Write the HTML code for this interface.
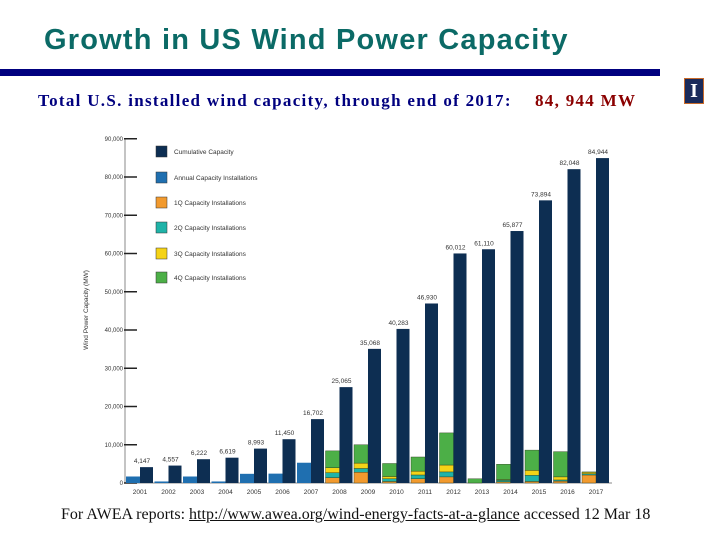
<!DOCTYPE html>
<html><head><meta charset="utf-8"><style>
body{margin:0;width:720px;height:540px;background:#fff;position:relative;overflow:hidden;font-family:"Liberation Sans",sans-serif}
.abs{position:absolute}
</style></head><body>
<div class="abs" style="left:44px;top:24px;font-size:29px;font-weight:bold;letter-spacing:1.2px;color:#0b6a66;white-space:nowrap">Growth in US Wind Power Capacity</div>
<div class="abs" style="left:0;top:69px;width:660px;height:7px;background:#00007f"></div>
<div class="abs" style="left:684px;top:78px;width:20px;height:26px;background:#1a2a5a;border:1px solid #c86a2a;box-sizing:border-box;color:#fff;font:bold 20px 'Liberation Serif',serif;text-align:center;line-height:24px">I</div>
<div class="abs" style="left:38px;top:91px;font:bold 17px 'Liberation Serif',serif;letter-spacing:1.3px;color:#00007f;white-space:nowrap">Total U.S. installed wind capacity, through end of 2017:</div>
<div class="abs" style="left:535px;top:91px;font:bold 17px 'Liberation Serif',serif;letter-spacing:1.3px;color:#8b0000;white-space:nowrap">84, 944 MW</div>
<div class="abs" style="left:61px;top:506px;font:16px 'Liberation Serif',serif;color:#111;white-space:nowrap">For AWEA reports: <span style="text-decoration:underline">http://www.awea.org/wind-energy-facts-at-a-glance</span> accessed 12 Mar 18</div>
<svg id="chart" class="abs" style="left:0;top:0" width="720" height="540"></svg>
<script>
const years=['2001','2002','2003','2004','2005','2006','2007','2008','2009','2010','2011','2012','2013','2014','2015','2016','2017'];
const cumulative=[4147,4557,6222,6619,8993,11450,16702,25065,35068,40283,46930,60012,61110,65877,73894,82048,84944];
const cumLabels=['4,147','4,557','6,222','6,619','8,993','11,450','16,702','25,065','35,068','40,283','46,930','60,012','61,110','65,877','73,894','82,048','84,944'];
const annual=[1700,400,1700,400,2400,2450,5300,0,0,0,0,0,0,0,0,0,0];
const q1=[0,0,0,0,0,0,0,1400,2800,400,1100,1600,0,300,400,500,2100];
const q2=[0,0,0,0,0,0,0,1300,1000,700,1000,1300,0,400,1600,300,300];
const q3=[0,0,0,0,0,0,0,1300,1400,600,1000,1800,0,200,1300,800,400];
const q4=[0,0,0,0,0,0,0,4400,4800,3400,3700,8400,1100,4000,5300,6600,100];
const yTicks=[0,10000,20000,30000,40000,50000,60000,70000,80000,90000];
const yTickLabels=['0','10,000','20,000','30,000','40,000','50,000','60,000','70,000','80,000','90,000'];
const legendLabels=['Cumulative Capacity','Annual Capacity Installations','1Q Capacity Installations','2Q Capacity Installations','3Q Capacity Installations','4Q Capacity Installations'];
const C={cum:'#0d2e52',ann:'#1f6fb0',q1:'#f29a2e',q2:'#1fb3a8',q3:'#f5d316',q4:'#4caf47'};
const svg=document.getElementById('chart');const NS='http://www.w3.org/2000/svg';
function y(v){return 483-v*38.25/10000;}
function xs(i){return 126+i*28.5;}
function mk(t,a,p){const e=document.createElementNS(NS,t);for(const k in a)e.setAttribute(k,a[k]);(p||svg).appendChild(e);return e;}
let ax=mk('line',{x1:125,y1:y(0),x2:125,y2:y(90000),stroke:'#888','stroke-width':1});

mk('line',{x1:125,y1:y(0),x2:612,y2:y(0),stroke:'#888','stroke-width':1});
yTicks.forEach((v,i)=>{
 const t=mk('line',{x1:124,y1:y(v),x2:137,y2:y(v),stroke:'#222','stroke-width':1.5});
 
 const l=mk('text',{x:123,y:y(v)+2,'text-anchor':'end','font-size':6,fill:'#333'});l.textContent=yTickLabels[i];
 
});
const yt=mk('text',{x:0,y:0,'font-size':6.5,fill:'#333','text-anchor':'middle',transform:'translate(88,310) rotate(-90)'});yt.textContent='Wind Power Capacity (MW)';

const lc=[C.cum,C.ann,C.q1,C.q2,C.q3,C.q4];
legendLabels.forEach((s,i)=>{
 const yy=[146,172,197,222,248,272][i];
 const r=mk('rect',{x:156,y:yy,width:11,height:11,fill:lc[i],stroke:'#333','stroke-width':0.5});
 
 const t=mk('text',{x:174,y:yy+8,'font-size':6.5,fill:'#333'});t.textContent=s;
 
});
years.forEach((yr,i)=>{
 const x=xs(i);
 if(annual[i]>0){const r=mk('rect',{x:x,y:y(annual[i]),width:14,height:y(0)-y(annual[i]),fill:C.ann});
  }
 let base=0;[[q1,C.q1,'q1'],[q2,C.q2,'q2'],[q3,C.q3,'q3'],[q4,C.q4,'q4']].forEach(([arr,c,n])=>{
  const v=arr[i];if(v<=0)return;
  const r=mk('rect',{x:x,y:y(base+v),width:14,height:y(base)-y(base+v),fill:c,stroke:'#2a3a1a','stroke-width':0.4});
  base+=v;});
 const cb=mk('rect',{x:x+14,y:y(cumulative[i]),width:13,height:y(0)-y(cumulative[i]),fill:C.cum});
 
 const vl=mk('text',{x:x+16,y:y(cumulative[i])-4,'text-anchor':'middle','font-size':6.5,fill:'#333'});vl.textContent=cumLabels[i];
 
 const xl=mk('text',{x:x+14,y:494,'text-anchor':'middle','font-size':6.5,fill:'#333'});xl.textContent=yr;
 
});
</script>
</body></html>
